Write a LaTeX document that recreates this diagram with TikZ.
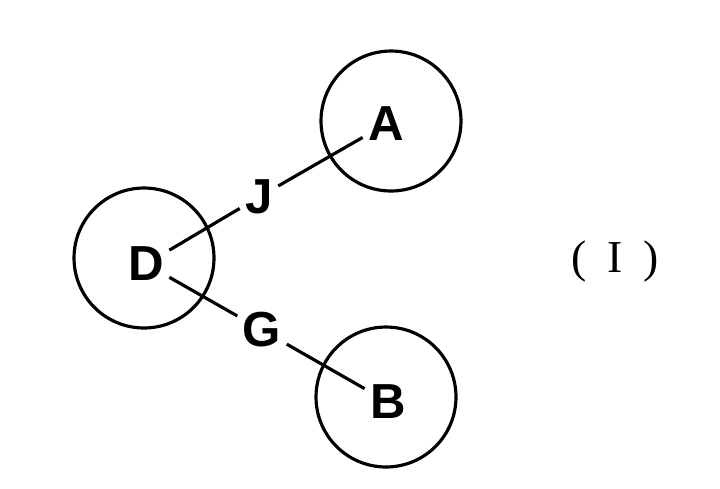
\documentclass[tikz,border=0pt]{standalone}
\usepackage{fontspec}
\setmainfont{Liberation Sans}
\newfontfamily\serifI{Liberation Serif}
\begin{document}
\begin{tikzpicture}[x=0.02cm,y=-0.02cm,
  ring/.style={draw,circle,line width=1.8pt,minimum size=2.8cm,inner sep=0pt},
  lab/.style={font=\fontsize{28}{30}\selectfont\bfseries,inner sep=3pt},
  link/.style={line width=1.8pt}]
\useasboundingbox (0,0) rectangle (720,488);
\node[ring] (cA) at (391,121) {};
\node[ring] (cD) at (144,258) {};
\node[ring] (cB) at (386,397) {};
\node[lab] (A) at (386,124) {A};
\node[lab] (D) at (146,264) {D};
\node[lab] (B) at (388,402) {B};
\node[lab] (J) at (259,197) {J};
\node[lab] (G) at (262,330) {G};
\draw[link] (D) -- (J);
\draw[link] (J) -- (A);
\draw[link] (D) -- (G);
\draw[link] (G) -- (B);
\node[font=\serifI\fontsize{26}{28}\selectfont] (I) at (615,262) {(\hspace{0.45em}I\hspace{0.45em})};
\end{tikzpicture}
\end{document}
